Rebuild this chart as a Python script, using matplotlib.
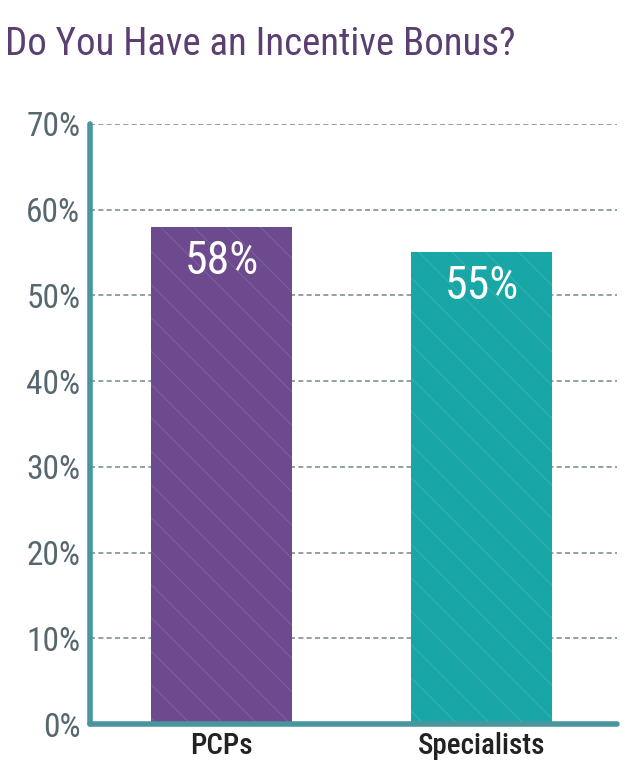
import matplotlib
matplotlib.use('Agg')
import matplotlib.pyplot as plt
from matplotlib import font_manager

# pick a narrow family if one is there
names = set(f.name for f in font_manager.fontManager.ttflist)
narrow = 'Roboto'
for cand in ['Roboto Condensed', 'Liberation Sans Narrow', 'Open Sans Condensed']:
    if cand in names:
        narrow = cand
        break
plt.rcParams['font.family'] = [narrow, 'DejaVu Sans']
plt.rcParams['hatch.linewidth'] = 0.6

categories = ['PCPs', 'Specialists']
values = [58, 55]
bar_colors = ['#6D4A8E', '#19A6A6']
yticks = [0, 10, 20, 30, 40, 50, 60, 70]
ytick_labels = ['0%', '10%', '20%', '30%', '40%', '50%', '60%', '70%']

fig = plt.figure(figsize=(6.4, 7.84), dpi=100)
ax = fig.add_axes([0.1406, 0.0765, 0.8234, 0.7655])

x = list(range(len(categories)))
bars = ax.bar(x, values, width=0.542, color=bar_colors, zorder=2)
for b in bars:
    b.set_hatch('\\')
    b.set_edgecolor((1, 1, 1, 0.14))
    b.set_linewidth(0)

for xi, v in zip(x, values):
    ax.text(xi, v - 1.4, f'{v}%', ha='center', va='top', color='white',
            fontsize=33, zorder=3)

ax.set_xlim(-0.506, 1.521)
ax.set_ylim(0, 70)
ax.set_yticks(yticks)
ax.set_yticklabels(ytick_labels)
ax.set_xticks(x)
ax.set_xticklabels(categories)
ax.tick_params(axis='y', length=0, pad=7, labelsize=24, labelcolor='#56676F')
ax.tick_params(axis='x', length=0, pad=6, labelsize=21, labelcolor='#222222')
for lab in ax.get_xticklabels():
    lab.set_fontweight('medium')

ax.yaxis.grid(True, linestyle=(0, (3, 2)), color='#7D9099', linewidth=1.2, zorder=1)
ax.set_axisbelow(True)
for s in ['top', 'right']:
    ax.spines[s].set_visible(False)
for s in ['left', 'bottom']:
    ax.spines[s].set_color('#4A969F')
    ax.spines[s].set_linewidth(4)
    ax.spines[s].set_capstyle('round')

fig.text(0.008, 0.943, 'Do You Have an Incentive Bonus?', ha='left', va='center',
         color='#5B3F72', fontsize=28)

fig.savefig('out.png', dpi=100)
